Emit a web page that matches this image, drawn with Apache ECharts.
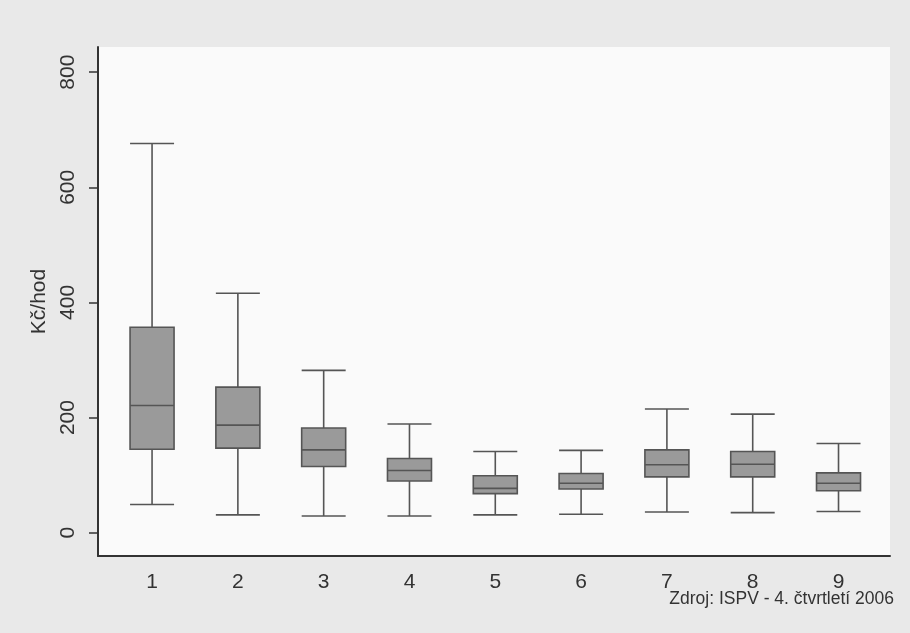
<!DOCTYPE html>
<html>
<head>
<meta charset="utf-8">
<script src="https://cdn.jsdelivr.net/npm/echarts@6/dist/echarts.min.js"></script>
<style>
html,body{margin:0;padding:0;background:#e9e9e9;}
#chart{width:910px;height:633px;}
</style>
</head>
<body>
<div id="chart"></div>
<script>
// Data
var categories = [1, 2, 3, 4, 5, 6, 7, 8, 9];
var whiskerLow = [49, 31, 29, 29, 31, 32, 36, 35, 37];
var q1 = [145, 147, 115, 90, 68, 76, 97, 97, 73];
var median = [221, 187, 144, 108, 77, 86, 118, 119, 86];
var q3 = [357, 253, 182, 129, 99, 103, 144, 141, 104];
var whiskerHigh = [676, 416, 282, 189, 141, 143, 215, 206, 155];
var yTicks = [0, 200, 400, 600, 800];
var yAxisTitle = 'Kč/hod';
var sourceNote = 'Zdroj: ISPV - 4. čtvrtletí 2006';

var boxData = categories.map(function (c, i) {
  return [c, whiskerLow[i], q1[i], median[i], q3[i], whiskerHigh[i]];
});

var FONT = "'Liberation Sans Narrow', 'Liberation Sans', Arial, sans-serif";
var chart = echarts.init(document.getElementById('chart'));
chart.setOption({
  backgroundColor: '#e9e9e9',
  animation: false,
  title: {
    text: sourceNote,
    right: 16,
    top: 590,
    padding: 0,
    textStyle: { fontFamily: FONT, fontSize: 17.5, fontWeight: 'normal', color: '#333' }
  },
  grid: {
    left: 98, right: 20, top: 47, bottom: 77,
    show: true, backgroundColor: '#fafafa', borderWidth: 0
  },
  xAxis: {
    type: 'value',
    min: 0.37, max: 9.6,
    splitLine: { show: false },
    axisLine: { show: true, onZero: false, lineStyle: { color: '#333', width: 2 } },
    axisTick: { show: false },
    axisLabel: {
      customValues: categories,
      margin: 16,
      fontFamily: FONT, fontSize: 21, color: '#333'
    }
  },
  yAxis: {
    type: 'value',
    min: -40.4, max: 843.7,
    name: yAxisTitle,
    nameLocation: 'middle',
    nameRotate: 90,
    nameGap: 42,
    nameTextStyle: { fontFamily: FONT, fontSize: 21, color: '#333' },
    splitLine: { show: false },
    axisLine: { show: true, onZero: false, lineStyle: { color: '#333', width: 2 } },
    axisTick: { show: true, customValues: yTicks, length: 9, lineStyle: { color: '#333', width: 1.5 } },
    axisLabel: {
      customValues: yTicks,
      rotate: 90,
      margin: 19,
      fontFamily: FONT, fontSize: 21, color: '#333'
    }
  },
  series: [{
    type: 'boxplot',
    data: boxData,
    boxWidth: [44, 44],
    itemStyle: { color: '#9a9a9a', borderColor: '#555', borderWidth: 1.6 },
    emphasis: { disabled: true }
  }]
});
</script>
</body>
</html>
